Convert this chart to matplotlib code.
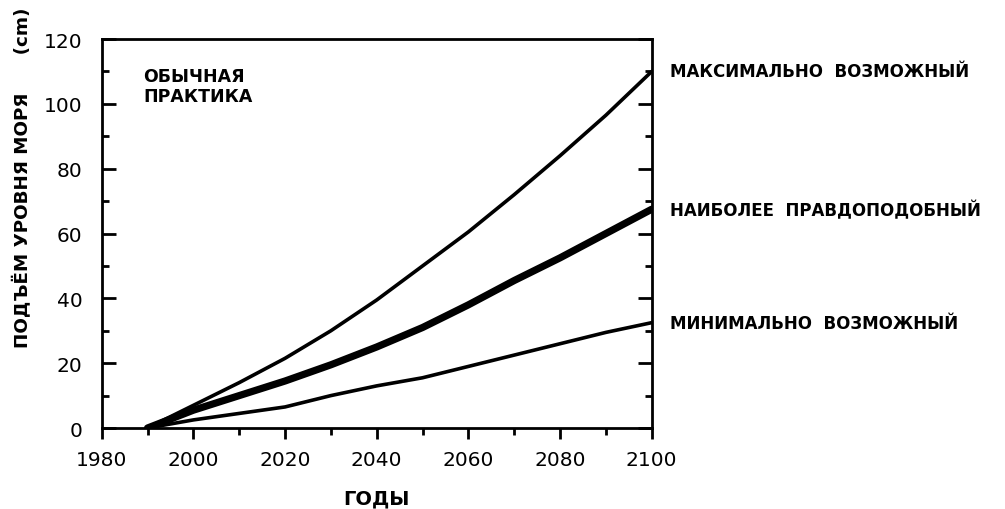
import matplotlib
matplotlib.use("Agg")
import matplotlib.pyplot as plt
from matplotlib.ticker import MultipleLocator

years = [1990, 2000, 2010, 2020, 2030, 2040, 2050, 2060, 2070, 2080, 2090, 2100]
rise_max = [0, 7, 14, 21.5, 30, 39.5, 50, 60.5, 72, 84, 96.5, 110]
rise_mid = [0, 5.5, 10, 14.5, 19.5, 25, 31, 38, 45.5, 52.5, 60, 67.5]
rise_min = [0, 2.5, 4.5, 6.5, 10, 13, 15.5, 19, 22.5, 26, 29.5, 32.5]

labels_right = ["МАКСИМАЛЬНО  ВОЗМОЖНЫЙ", "НАИБОЛЕЕ  ПРАВДОПОДОБНЫЙ", "МИНИМАЛЬНО  ВОЗМОЖНЫЙ"]
scenario_text = "ОБЫЧНАЯ\nПРАКТИКА"
xlabel = "ГОДЫ"
ylabel = "ПОДЪЁМ УРОВНЯ МОРЯ      (cm)"

plt.rcParams['font.family'] = ['DejaVu Sans']

fig = plt.figure(figsize=(10.05, 5.10), dpi=100)
ax = fig.add_axes([0.1012, 0.1588, 0.5473, 0.7627])

ax.plot(years, rise_max, color='black', lw=2.6, solid_capstyle='round')
ax.plot(years, rise_mid, color='black', lw=5.2, solid_capstyle='round')
ax.plot(years, rise_min, color='black', lw=2.6, solid_capstyle='round')

ax.set_xlim(1980, 2100)
ax.set_ylim(0, 120)

for s in ax.spines.values():
    s.set_linewidth(2.0)

ax.xaxis.set_major_locator(MultipleLocator(20))
ax.xaxis.set_minor_locator(MultipleLocator(10))
ax.yaxis.set_major_locator(MultipleLocator(20))
ax.yaxis.set_minor_locator(MultipleLocator(10))

ax.tick_params(axis='x', which='major', direction='out', length=8, width=2,
               labelsize=14.5, pad=8, top=False)
ax.tick_params(axis='x', which='minor', direction='out', length=5, width=2, top=False)
ax.tick_params(axis='y', which='major', direction='in', length=10, width=2,
               labelsize=14.5, pad=14, right=True)
ax.tick_params(axis='y', which='minor', direction='in', length=5, width=2, right=True)

ax.text(1989, 111.5, scenario_text, fontsize=12.5, fontweight='bold',
        va='top', ha='left', linespacing=1.2)

ends = [rise_max[-1], rise_mid[-1], rise_min[-1]]
for lab, yv in zip(labels_right, ends):
    ax.annotate(lab, xy=(2100, yv), xytext=(13, 0), textcoords='offset points',
                fontsize=12, fontweight='bold', va='center', ha='left',
                annotation_clip=False)

ax.set_xlabel(xlabel, fontsize=14, fontweight='bold', labelpad=14)
fig.text(0.023, 1 - 178 / 510, ylabel, rotation=90, fontsize=13.2,
         fontweight='bold', ha='center', va='center')

fig.savefig("out.png", dpi=100)
